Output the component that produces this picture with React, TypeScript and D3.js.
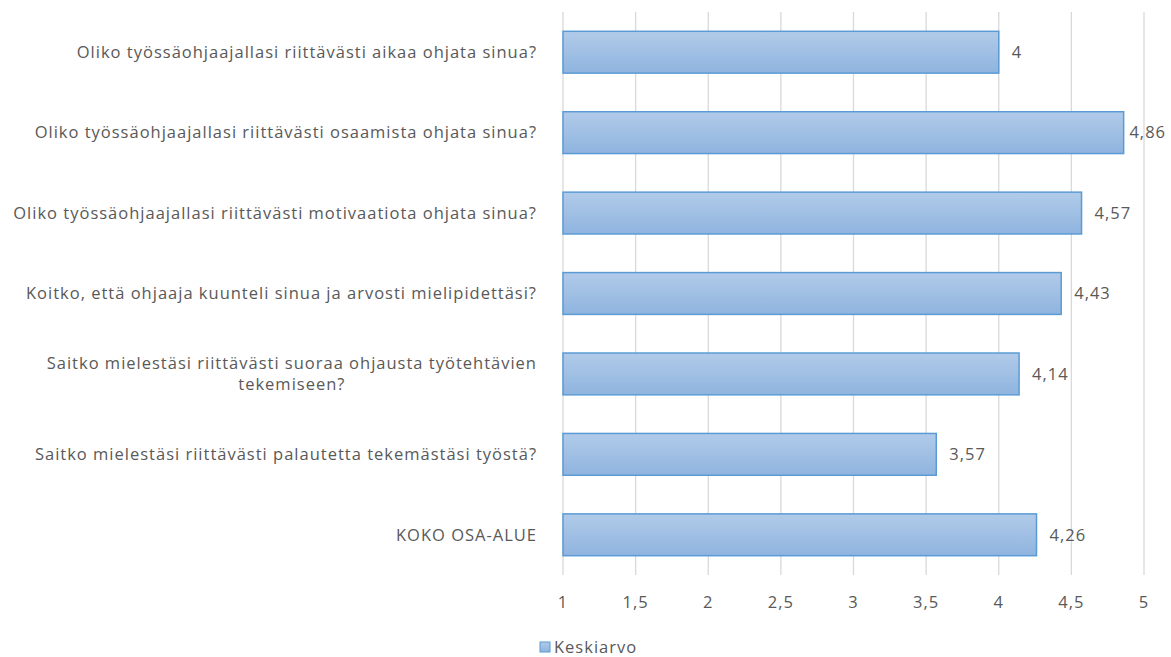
import React, { useEffect, useRef } from "react";
import * as d3 from "d3";

const categories: string[] = [
  "Oliko työssäohjaajallasi riittävästi aikaa ohjata sinua?",
  "Oliko työssäohjaajallasi riittävästi osaamista ohjata sinua?",
  "Oliko työssäohjaajallasi riittävästi motivaatiota ohjata sinua?",
  "Koitko, että ohjaaja kuunteli sinua ja arvosti mielipidettäsi?",
  "Saitko mielestäsi riittävästi suoraa ohjausta työtehtävien\ntekemiseen?",
  "Saitko mielestäsi riittävästi palautetta tekemästäsi työstä?",
  "KOKO OSA-ALUE",
];
const values: number[] = [4, 4.86, 4.57, 4.43, 4.14, 3.57, 4.26];
const xTicks: number[] = [1, 1.5, 2, 2.5, 3, 3.5, 4, 4.5, 5];
const seriesName = "Keskiarvo";

const W = 1171;
const H = 657;
const FONT = "'Open Sans', sans-serif";
const TXT = "#595959";
const FS = 16.5;
const LS = 1;

const fmt = (v: number) => String(v).replace(".", ",");

export default function App() {
  const ref = useRef<SVGSVGElement | null>(null);
  useEffect(() => {
    const svg = d3.select(ref.current);
    svg.selectAll("*").remove();

    const x = d3.scaleLinear().domain([1, 5]).range([563, 1144]);
    const y = d3.scaleBand<string>().domain(categories).range([12, 575]).paddingInner(0.48).paddingOuter(0.24);

    const measure = (s: string) => {
      const m = svg.append("text").attr("font-family", FONT).attr("font-size", FS).attr("letter-spacing", LS).text(s);
      const w = (m.node() as SVGTextElement).getComputedTextLength();
      m.remove();
      return w;
    };

    const defs = svg.append("defs");
    const g = defs.append("linearGradient").attr("id", "barGrad").attr("x1", 0).attr("y1", 0).attr("x2", 0).attr("y2", 1);
    g.append("stop").attr("offset", "0%").attr("stop-color", "#b1cbe9");
    g.append("stop").attr("offset", "100%").attr("stop-color", "#8fb4df");

    svg.append("g").selectAll("line").data(xTicks).join("line")
      .attr("x1", d => x(d)).attr("x2", d => x(d))
      .attr("y1", 12).attr("y2", 575)
      .attr("stroke", "#d9d9d9").attr("stroke-width", 1.3);

    svg.append("g").selectAll("rect").data(values).join("rect")
      .attr("x", x(1))
      .attr("y", (_, i) => y(categories[i])!)
      .attr("width", d => x(d) - x(1))
      .attr("height", y.bandwidth())
      .attr("fill", "url(#barGrad)")
      .attr("stroke", "#5b9bd5").attr("stroke-width", 1.5);

    svg.append("g").selectAll("text").data(values).join("text")
      .attr("x", d => Math.min(x(d) + 13, W - 5 - measure(fmt(d))))
      .attr("y", (_, i) => y(categories[i])! + y.bandwidth() / 2)
      .attr("dy", "0.35em")
      .attr("fill", TXT).attr("font-family", FONT).attr("font-size", FS).attr("letter-spacing", LS)
      .text(d => fmt(d));

    const cg = svg.append("g");
    categories.forEach((c) => {
      const lines = c.split("\n");
      const cy = y(c)! + y.bandwidth() / 2;
      const lh = 21;
      const widths: number[] = lines.map(l => measure(l));
      const maxW = d3.max(widths)!;
      const center = 537 - maxW / 2;
      const t = cg.append("text").attr("fill", TXT).attr("font-family", FONT).attr("font-size", FS).attr("letter-spacing", LS);
      lines.forEach((l, k) => {
        t.append("tspan")
          .attr("x", center)
          .attr("text-anchor", "middle")
          .attr("y", cy + (k - (lines.length - 1) / 2) * lh)
          .attr("dy", "0.35em")
          .text(l);
      });
    });

    svg.append("g").selectAll("text").data(xTicks).join("text")
      .attr("x", d => x(d)).attr("y", 602).attr("dy", "0.35em")
      .attr("text-anchor", "middle")
      .attr("fill", TXT).attr("font-family", FONT).attr("font-size", FS).attr("letter-spacing", LS)
      .text(d => fmt(d));

    svg.append("rect").attr("x", 540).attr("y", 642).attr("width", 10).attr("height", 10)
      .attr("fill", "url(#barGrad)").attr("stroke", "#5b9bd5").attr("stroke-width", 1);
    svg.append("text").attr("x", 554).attr("y", 647).attr("dy", "0.35em")
      .attr("fill", TXT).attr("font-family", FONT).attr("font-size", FS).attr("letter-spacing", LS)
      .text(seriesName);
  }, []);

  return (
    <svg ref={ref} width={W} height={H}
      style={{ position: "fixed", left: 0, top: 0, display: "block", background: "#fff" }} />
  );
}
